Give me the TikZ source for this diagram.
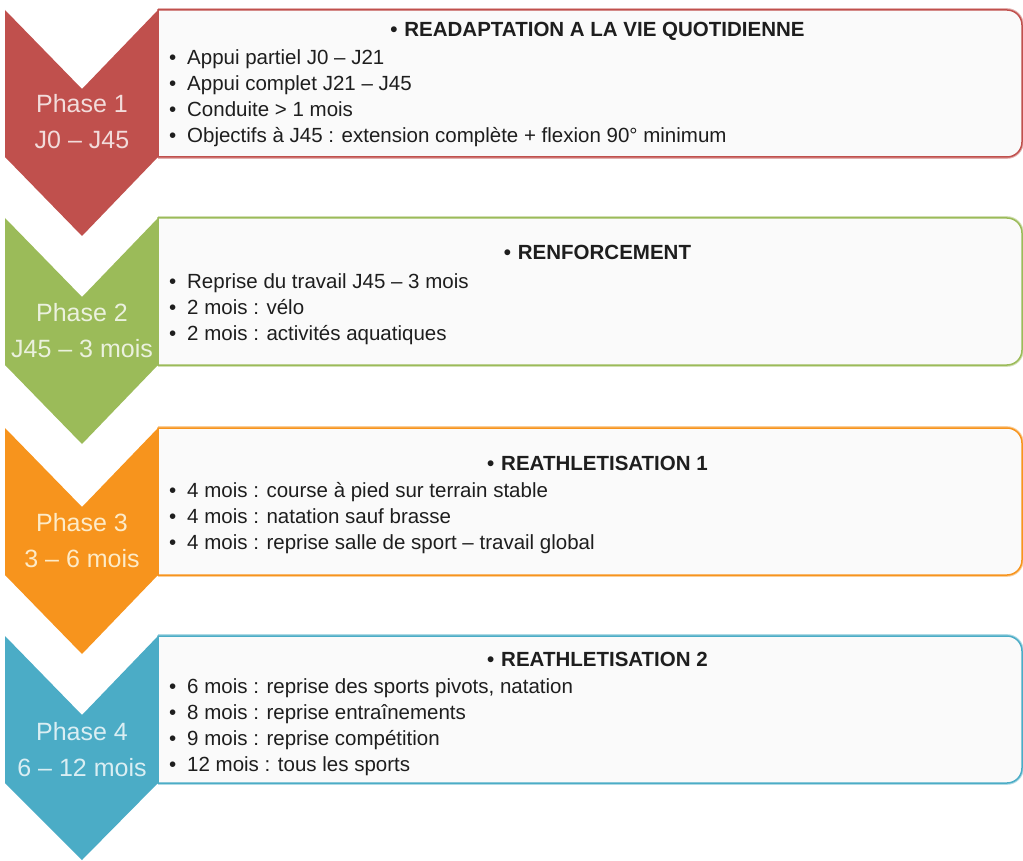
\documentclass[tikz,border=0pt]{standalone}
\usepackage{fontspec}
\setmainfont{Liberation Sans}
\definecolor{cA}{HTML}{C0504D}
\definecolor{cB}{HTML}{9BBB59}
\definecolor{cC}{HTML}{F7941D}
\definecolor{cD}{HTML}{4BACC6}
\definecolor{tA}{HTML}{F2DCDB}
\definecolor{tB}{HTML}{EBF1DE}
\definecolor{tC}{HTML}{FDEBC8}
\definecolor{tD}{HTML}{DAEEF3}
\definecolor{boxfill}{HTML}{FAFAFA}
\definecolor{txt}{HTML}{1E1E1E}
\begin{document}
\begin{tikzpicture}[x=1pt,y=-1pt,
  chev/.style={fill=#1,draw=none},
  boxhalo/.style={draw=#1!45,line width=3.6pt},
  boxline/.style={draw=#1,line width=1.5pt,fill=boxfill},
  lbl/.style={text=#1,font=\fontsize{25}{30}\selectfont,inner sep=0pt,anchor=base},
  ttl/.style={text=txt,font=\bfseries\fontsize{20.5}{24}\selectfont,inner sep=0pt,anchor=base},
  itm/.style={text=txt,font=\fontsize{20.5}{24}\selectfont,inner sep=0pt,anchor=base west}]
\useasboundingbox[fill=white] (0,0) rectangle (1023,861);
\newcommand{\bul}{\makebox[18pt][l]{\textbullet}}
\newcommand{\tbul}{\makebox[14pt][l]{\textbullet}}
% ---------- Phase 1 ----------
\path[boxhalo=cA] (158,10) -- (1007,10) arc[start angle=-90,end angle=0,radius=15] -- (1022,142) arc[start angle=0,end angle=90,radius=15] -- (158,157);
\path[boxline=cA] (158,157) -- (158,10) -- (1007,10) arc[start angle=-90,end angle=0,radius=15] -- (1022,142) arc[start angle=0,end angle=90,radius=15] -- cycle;
\path[chev=cA] (5,10) -- (82,89) -- (158,10) -- (158,157) -- (82,236) -- (5,157) -- cycle;
\node[lbl=tA] (p1a) at (82,113) {Phase 1};
\node[lbl=tA] (p1b) at (82,149) {J0 -- J45};
\node[ttl] (t1) at (597.5,37) {\tbul READAPTATION A LA VIE QUOTIDIENNE};
\node[itm] (i1a) at (169,65) {\bul Appui partiel J0 -- J21};
\node[itm] (i1b) at (169,91) {\bul Appui complet J21 -- J45};
\node[itm] (i1c) at (169,117) {\bul Conduite > 1 mois};
\node[itm] (i1d) at (169,143) {\bul Objectifs à J45 : extension complète + flexion 90° minimum};
% ---------- Phase 2 ----------
\path[boxhalo=cB] (158,218) -- (1007,218) arc[start angle=-90,end angle=0,radius=15] -- (1022,350) arc[start angle=0,end angle=90,radius=15] -- (158,365);
\path[boxline=cB] (158,365) -- (158,218) -- (1007,218) arc[start angle=-90,end angle=0,radius=15] -- (1022,350) arc[start angle=0,end angle=90,radius=15] -- cycle;
\path[chev=cB] (5,218) -- (82,297) -- (158,218) -- (158,365) -- (82,444) -- (5,365) -- cycle;
\node[lbl=tB] (p2a) at (82,321) {Phase 2};
\node[lbl=tB] (p2b) at (82,357) {J45 -- 3 mois};
\node[ttl] (t2) at (597.5,260) {\tbul RENFORCEMENT};
\node[itm] (i2a) at (169,288) {\bul Reprise du travail J45 -- 3 mois};
\node[itm] (i2b) at (169,314) {\bul 2 mois : vélo};
\node[itm] (i2c) at (169,340) {\bul 2 mois : activités aquatiques};
% ---------- Phase 3 ----------
\path[boxhalo=cC] (158,428) -- (1007,428) arc[start angle=-90,end angle=0,radius=15] -- (1022,560) arc[start angle=0,end angle=90,radius=15] -- (158,575);
\path[boxline=cC] (158,575) -- (158,428) -- (1007,428) arc[start angle=-90,end angle=0,radius=15] -- (1022,560) arc[start angle=0,end angle=90,radius=15] -- cycle;
\path[chev=cC] (5,428) -- (82,507) -- (158,428) -- (158,575) -- (82,654) -- (5,575) -- cycle;
\node[lbl=tC] (p3a) at (82,531) {Phase 3};
\node[lbl=tC] (p3b) at (82,567) {3 -- 6 mois};
\node[ttl] (t3) at (597.5,470) {\tbul REATHLETISATION 1};
\node[itm] (i3a) at (169,497) {\bul 4 mois : course à pied sur terrain stable};
\node[itm] (i3b) at (169,523) {\bul 4 mois : natation sauf brasse};
\node[itm] (i3c) at (169,549) {\bul 4 mois : reprise salle de sport -- travail global};
% ---------- Phase 4 ----------
\path[boxhalo=cD] (158,636) -- (1007,636) arc[start angle=-90,end angle=0,radius=15] -- (1022,768) arc[start angle=0,end angle=90,radius=15] -- (158,783);
\path[boxline=cD] (158,783) -- (158,636) -- (1007,636) arc[start angle=-90,end angle=0,radius=15] -- (1022,768) arc[start angle=0,end angle=90,radius=15] -- cycle;
\path[chev=cD] (5,636) -- (82,715) -- (158,636) -- (158,783) -- (82,860) -- (5,783) -- cycle;
\node[lbl=tD] (p4a) at (82,740) {Phase 4};
\node[lbl=tD] (p4b) at (82,776) {6 -- 12 mois};
\node[ttl] (t4) at (597.5,666) {\tbul REATHLETISATION 2};
\node[itm] (i4a) at (169,693) {\bul 6 mois : reprise des sports pivots, natation};
\node[itm] (i4b) at (169,719) {\bul 8 mois : reprise entraînements};
\node[itm] (i4c) at (169,745) {\bul 9 mois : reprise compétition};
\node[itm] (i4d) at (169,771) {\bul 12 mois : tous les sports};
\end{tikzpicture}
\end{document}
